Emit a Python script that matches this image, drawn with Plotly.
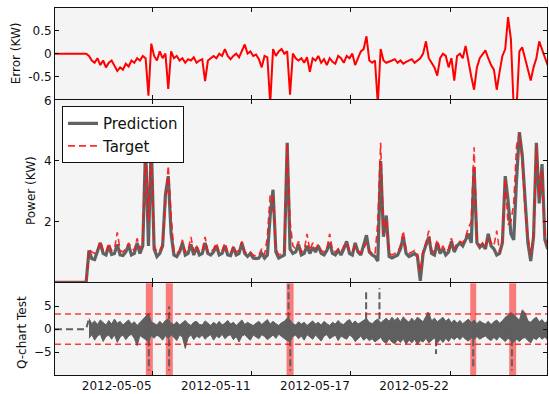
import pandas as pd
import plotly.graph_objects as go

# ---------------- data ----------------
start_time = "2012-04-29 16:00"
n_points = 175
sample_step = "4h"
x_range = ["2012-04-29 16:00", "2012-05-28 15:00"]

tick_vals = ["2012-05-05 10:00", "2012-05-11 06:00", "2012-05-17 02:00", "2012-05-22 22:00"]
tick_text = ["2012-05-05", "2012-05-11", "2012-05-17", "2012-05-22"]

error_kw = [
    0, 0, 0, 0, 0, 0, 0, 0, 0, 0, 0, 0,
    -0.05, -0.15, -0.2, -0.1, -0.25, -0.15, -0.3, -0.2, -0.15, -0.25,
    -0.38, -0.3, -0.35, -0.22, -0.28, -0.15, -0.2, -0.1, -0.15, -0.05,
    -0.1, -0.92, 0.22, -0.05, -0.15, 0.05, -0.1, 0.0, -0.77, 0.05,
    -0.1, -0.05, -0.15, -0.1, -0.2, -0.12, -0.15, -0.08, -0.2, -0.15,
    -0.12, -0.6, -0.15, -0.1, -0.05, -0.1, 0.0, -0.05, 0.1, -0.05,
    -0.12, -0.05, 0.0, -0.08, 0.05, 0.2, 0.0, 0.05, -0.05, -0.02,
    -0.12, -0.3, -0.05, -0.08, -1.1, 0.1, -0.05, 0.05, 0.1, 0.0,
    0.05, -0.9, 0.0, -0.1, -0.15, -0.1, -0.2, -0.08, -0.4, -0.1,
    -0.15, -0.05, -0.2, -0.12, -0.25, -0.1, -0.18, -0.22, -0.05, -0.1,
    -0.2, -0.05, -0.1, 0.0, -0.25, -0.1, 0.05, 0.1, 0.38, -0.15,
    -0.2, -0.15, -1.1, 0.1, -0.15, -0.2, -0.18, -0.15, -0.12, -0.2,
    -0.15, -0.22, -0.18, -0.15, -0.12, -0.2, -0.15, -0.1, 0.0, 0.27,
    -0.1, -0.2, -0.3, -0.48, -0.1, 0.0, -0.05, -0.3, -0.1, -0.59,
    -0.05, 0.0, -0.1, 0.17, -0.2, -0.5, -0.79, -0.3, -0.1, 0.0,
    0.07, -0.1, -0.25, -0.35, -0.79, -0.4, -0.05, 0.1, 0.8, 0.32,
    -1.2, -1.2, 0.05, 0.14, -0.1, -0.4, -0.59, -0.3, -0.1, 0.27,
    0.1, -0.1, -0.26,
]

prediction_kw = [
    0, 0, 0, 0, 0, 0, 0, 0, 0, 0, 0, 0,
    1.05, 0.78, 0.75, 1.0, 1.3, 0.95, 0.9, 1.2, 0.92, 0.95,
    1.25, 0.9, 0.88, 1.0, 1.22, 0.9, 0.95, 1.3, 0.95, 1.2,
    4.5, 1.2, 4.6, 1.1, 0.85, 0.95, 1.2, 2.9, 3.5, 1.6,
    0.9, 0.85, 1.0, 1.3, 0.9, 0.95, 1.25, 0.9, 1.15, 0.9,
    0.95, 1.3, 0.95, 0.9, 1.0, 1.2, 0.9, 0.95, 1.2, 0.9,
    0.88, 1.15, 0.9, 0.95, 1.3, 0.95, 0.85, 0.95, 0.8, 0.78,
    0.8, 0.95, 0.8, 0.9, 2.2, 3.05, 1.0, 0.8, 0.85, 0.9,
    4.6, 1.1, 0.95, 1.0, 1.25, 0.9, 0.95, 1.2, 0.95, 1.15,
    1.0, 1.2, 0.95, 0.9, 1.05, 1.3, 0.95, 0.9, 1.05, 0.9,
    1.1, 1.35, 0.95, 0.9, 1.3, 1.0, 0.9, 1.2, 1.55, 1.0,
    0.9, 0.85, 0.7, 4.0, 1.5, 2.2, 0.85, 0.8, 0.85, 0.9,
    1.1, 1.5, 0.95, 0.85, 0.9, 0.95, 0.85, 0.05, 0.95, 1.2,
    1.5, 0.95, 0.9, 1.3, 0.95, 1.1, 0.9, 1.0, 1.35, 1.0,
    1.2, 1.3, 1.2, 1.4, 1.6, 1.3, 3.8, 1.3, 1.15, 1.25,
    1.1, 1.6, 1.2, 1.1, 0.9, 0.95, 1.3, 3.5, 2.7, 1.6,
    1.4, 3.4, 4.95, 4.2, 2.6, 1.3, 0.7, 1.5, 4.6, 2.6,
    3.9, 1.4, 1.1,
]

target_kw = [
    0, 0, 0, 0, 0, 0, 0, 0, 0, 0, 0, 0,
    1.1, 1.0, 0.95, 1.05, 1.35, 1.05, 1.0, 1.3, 1.05, 1.1,
    1.65, 1.05, 1.0, 1.1, 1.3, 1.15, 1.05, 1.45, 1.1, 1.3,
    4.4, 2.0, 4.5, 1.2, 1.0, 1.05, 1.25, 2.5, 3.85, 2.2,
    1.0, 0.95, 1.05, 1.4, 1.0, 1.05, 1.5, 1.0, 1.2, 1.0,
    1.05, 1.5, 1.0, 1.0, 1.1, 1.3, 1.0, 1.05, 1.3, 1.0,
    0.95, 1.2, 1.0, 1.05, 1.35, 1.0, 0.95, 1.0, 0.9, 0.85,
    0.9, 1.1, 0.9, 1.5, 2.9, 2.8, 1.1, 0.9, 0.95, 1.0,
    4.6, 2.0, 1.2, 1.1, 1.35, 1.0, 1.05, 1.6, 1.05, 1.3,
    1.1, 1.25, 1.05, 1.0, 1.1, 1.6, 1.05, 1.0, 1.1, 1.0,
    1.2, 1.3, 1.05, 1.0, 1.2, 1.05, 0.95, 1.1, 1.3, 1.05,
    0.95, 0.9, 2.0, 4.6, 1.6, 2.1, 0.95, 0.9, 0.95, 1.0,
    1.2, 1.7, 1.05, 0.95, 1.0, 1.05, 0.95, 0.35, 1.05, 1.3,
    1.7, 1.05, 1.0, 1.4, 1.05, 1.2, 1.0, 1.1, 1.45, 1.1,
    1.3, 1.35, 1.3, 1.5, 1.8, 2.0, 4.45, 1.4, 1.2, 1.3,
    1.2, 1.5, 1.3, 1.2, 1.7, 1.0, 1.4, 3.4, 1.9, 2.0,
    2.6, 4.5, 4.9, 4.0, 2.4, 1.5, 0.9, 1.6, 4.5, 2.8,
    3.7, 1.5, 1.2,
]

q_upper = [
    0, 0, 0, 0, 0, 0, 0, 0, 0, 0, 0, 0,
    2.3, 1.2, 1.8, 1.0, 2.0, 1.4, 0.9, 1.9, 1.1, 2.2,
    1.3, 1.7, 0.9, 1.5, 2.0, 1.1, 1.6, 0.8, 1.4, 2.1,
    2.8, 3.4, 1.6, 1.2, 0.9, 1.7, 1.1, 1.9, 2.2, 1.3,
    1.0, 1.6, 0.9, 1.4, 1.9, 1.2, 0.8, 1.5, 1.7, 1.0,
    0.9, 1.8, 1.2, 0.8, 1.5, 1.0, 1.7, 0.9, 1.3, 1.9,
    1.1, 1.5, 0.8, 1.3, 2.0, 1.0, 1.5, 1.1, 0.8, 1.3,
    1.7, 1.0, 1.5, 2.1, 1.1, 1.7, 1.2, 0.8, 1.4, 1.7,
    2.4, 2.0, 1.2, 0.9, 1.6, 1.1, 1.5, 0.8, 1.3, 1.8,
    1.1, 1.5, 0.9, 1.7, 1.2, 0.8, 1.5, 1.1, 1.9, 1.2,
    1.0, 1.7, 2.1, 1.2, 1.8, 1.1, 1.5, 2.0, 2.3, 1.5,
    1.2, 1.8, 2.2, 1.4, 1.9, 2.4, 1.7, 2.6, 1.9, 2.5,
    1.6, 2.7, 2.0, 1.5, 2.4, 1.7, 2.6, 2.0, 1.6, 2.8,
    3.6, 1.8, 2.4, 1.6, 2.1, 2.6, 1.7, 2.3, 1.4, 2.0,
    1.3, 1.9, 1.2, 1.8, 2.2, 1.4, 2.0, 1.2, 1.8, 1.4,
    1.1, 1.7, 1.0, 1.6, 2.0, 1.3, 1.8, 2.6, 3.0, 3.6,
    3.2, 2.6, 1.9, 4.2, 3.6, 1.8, 1.5, 2.2, 2.6, 1.6,
    2.1, 1.3, 1.8,
]

q_lower = [
    0, 0, 0, 0, 0, 0, 0, 0, 0, 0, 0, 0,
    -2.0, -1.2, -2.4, -1.5, -1.1, -2.7, -1.6, -1.3, -2.2, -1.2,
    -2.9, -1.7, -1.3, -2.3, -1.5, -1.1, -2.0, -3.6, -1.4, -1.8,
    -2.3, -2.7, -1.4, -2.0, -1.3, -1.7, -2.4, -1.4, -2.1, -1.2,
    -1.8, -2.5, -1.3, -1.7, -4.2, -1.9, -1.2, -2.3, -1.5, -1.9,
    -1.3, -2.2, -1.6, -1.2, -2.4, -1.5, -1.9, -1.1, -2.1, -1.5,
    -1.2, -2.3, -1.6, -2.8, -1.5, -1.2, -1.9, -2.4, -1.3, -1.7,
    -2.1, -1.2, -1.6, -2.3, -1.7, -1.3, -2.0, -1.1, -1.6, -2.1,
    -2.5, -2.7, -1.6, -1.3, -2.1, -1.5, -2.4, -1.2, -1.7, -2.2,
    -1.3, -1.9, -2.6, -1.5, -1.2, -2.1, -1.7, -1.3, -2.5, -1.5,
    -1.9, -2.2, -1.3, -1.7, -2.7, -2.0, -1.5, -2.4, -1.9, -2.5,
    -2.1, -2.8, -2.3, -1.8, -2.7, -3.1, -2.1, -2.8, -3.2, -2.3,
    -2.9, -2.1, -3.3, -2.4, -3.0, -2.2, -3.4, -2.5, -2.8, -2.0,
    -3.0, -2.4, -1.9, -3.1, -2.2, -2.9, -2.0, -2.7, -1.8, -2.3,
    -1.7, -2.3, -1.6, -2.2, -2.6, -1.9, -2.3, -1.6, -2.2, -1.8,
    -1.5, -2.1, -2.5, -1.8, -2.4, -1.6, -2.2, -2.7, -2.0, -2.5,
    -2.9, -2.2, -2.7, -2.1, -1.8, -2.5, -3.0, -1.9, -2.3, -1.6,
    -2.2, -1.7, -2.4,
]
q_data_start = 12

q_spike_times = [
    "2012-05-05 04:30", "2012-05-06 09:12", "2012-05-06 09:12", "2012-05-13 09:50",
    "2012-05-13 12:20", "2012-05-17 23:30", "2012-05-18 18:20", "2012-05-21 14:24",
    "2012-05-22 02:12", "2012-05-24 06:48", "2012-05-26 13:24", "2012-05-27 03:54",
]
q_spike_values = [-9.0, 5.0, -9.0, 9.8, -9.0, 8.2, 8.9, 3.8, -5.4, -8.5, -9.0, 4.3]

q_limit = 3.3

anomaly_starts = ["2012-05-05 00:18", "2012-05-06 04:30", "2012-05-13 07:06",
                  "2012-05-24 02:36", "2012-05-26 09:36"]
anomaly_ends = ["2012-05-05 10:12", "2012-05-06 14:24", "2012-05-13 17:00",
                "2012-05-24 11:00", "2012-05-26 19:24"]

# ---------------- figure ----------------
times = pd.date_range(start_time, periods=n_points, freq=sample_step)

FONT = "DejaVu Sans"
GRAY = "rgba(85,85,85,0.92)"
QGRAY = "rgb(95,95,95)"

fig = go.Figure()

fig.add_trace(go.Scatter(x=times, y=error_kw, mode="lines", xaxis="x", yaxis="y",
                         line=dict(color="#ff0000", width=2), showlegend=False,
                         hoverinfo="skip"))

fig.add_trace(go.Scatter(x=times, y=prediction_kw, mode="lines", xaxis="x2", yaxis="y2",
                         name="Prediction", line=dict(color=GRAY, width=3.2)))
fig.add_trace(go.Scatter(x=times, y=target_kw, mode="lines", xaxis="x2", yaxis="y2",
                         name="Target",
                         line=dict(color="rgba(255,20,20,0.9)", width=1.6, dash="7px,4px")))

fig.add_trace(go.Scatter(x=times[q_data_start:], y=q_lower[q_data_start:], mode="lines",
                         xaxis="x3", yaxis="y3", line=dict(color=QGRAY, width=1),
                         showlegend=False))
fig.add_trace(go.Scatter(x=times[q_data_start:], y=q_upper[q_data_start:], mode="lines",
                         xaxis="x3", yaxis="y3", fill="tonexty",
                         fillcolor=QGRAY, line=dict(color=QGRAY, width=1),
                         showlegend=False))
fig.add_trace(go.Scatter(x=times[:q_data_start + 1], y=q_upper[:q_data_start + 1],
                         mode="lines", xaxis="x3", yaxis="y3",
                         line=dict(color=QGRAY, width=2, dash="7px,4px"),
                         showlegend=False))

spike_x, spike_y = [], []
for t, v in zip(q_spike_times, q_spike_values):
    spike_x += [t, t, None]
    spike_y += [0, v, None]
fig.add_trace(go.Scatter(x=spike_x, y=spike_y, mode="lines", xaxis="x3", yaxis="y3",
                         line=dict(color=QGRAY, width=2, dash="7px,3px"),
                         showlegend=False))

for s, e in zip(anomaly_starts, anomaly_ends):
    fig.add_shape(type="rect", xref="x3", yref="y3 domain", x0=s, x1=e, y0=0, y1=1,
                  fillcolor="rgba(255,0,0,0.5)", line=dict(width=0), layer="below")
for lim in (q_limit, -q_limit):
    fig.add_shape(type="line", xref="x3 domain", yref="y3", x0=0, x1=1, y0=lim, y1=lim,
                  line=dict(color="rgba(255,0,0,0.75)", width=1.5, dash="6px,4px"))

axis_common = dict(showline=True, linecolor="#111", linewidth=1, mirror="ticks",
                   ticks="inside", ticklen=4, tickcolor="#111", showgrid=False,
                   zeroline=False, tickfont=dict(family=FONT, size=12, color="#111"))

x_common = dict(axis_common, type="date", range=x_range, tickvals=tick_vals,
                ticktext=tick_text)

fig.update_layout(
    width=549, height=394,
    margin=dict(l=55, r=1, t=7, b=16),
    paper_bgcolor="white", plot_bgcolor="#f4f4f4",
    font=dict(family=FONT, size=12, color="#111"),
    xaxis=dict(x_common, anchor="y", showticklabels=False),
    xaxis2=dict(x_common, anchor="y2", showticklabels=False),
    xaxis3=dict(x_common, anchor="y3", showticklabels=True, ticklabelshift=-36),
    yaxis=dict(axis_common, domain=[0.7512, 1.0], range=[-1, 1], anchor="x",
               tickvals=[-0.5, 0, 0.5], ticktext=["-0.5", "0", "0.5"]),
    yaxis2=dict(axis_common, domain=[0.2526, 0.7485], range=[0, 6], anchor="x2",
                tickvals=[2, 4, 6], ticktext=["2", "4", "6"]),
    yaxis3=dict(axis_common, domain=[0.0, 0.2499], range=[-10, 10], anchor="x3",
                tickvals=[-5, 0, 5], ticktext=["\u22125", "0", "5"]),
    legend=dict(x=0.0142, y=0.7325, xanchor="left", yanchor="top", traceorder="normal",
                bgcolor="white", bordercolor="#111", borderwidth=1,
                font=dict(family=FONT, size=15, color="#111")),
    showlegend=True,
)

titles = [("Error (KW)", -0.0791, 0.877), ("Power (KW)", -0.0487, 0.5013),
          ("Q-chart Test", -0.0659, 0.1159)]
for txt, xp, yp in titles:
    fig.add_annotation(text=txt, xref="paper", yref="paper", x=xp, y=yp,
                       textangle=-90, showarrow=False, xanchor="center", yanchor="middle",
                       font=dict(family=FONT, size=12, color="#111"))

fig.write_html("out.html", config={"displayModeBar": False},
               post_script="document.body.style.margin='0';")
